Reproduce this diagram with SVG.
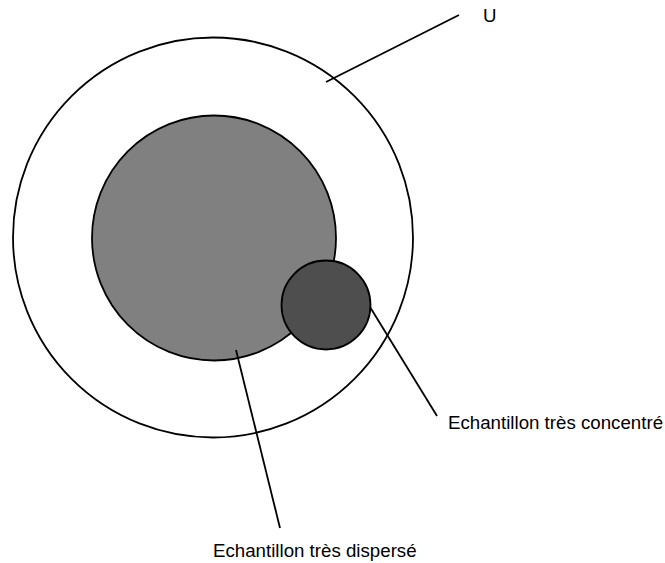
<svg xmlns="http://www.w3.org/2000/svg" width="665" height="563" viewBox="0 0 665 563">
<style>
.shape{stroke:#000;stroke-width:1.8}
.conn{stroke:#000;stroke-width:1.8;fill:none}
.lbl{font-family:"Liberation Sans",Arial,sans-serif;font-size:18.7px;fill:#000}
</style>
<rect width="665" height="563" fill="#fff"/>
<g id="univers">
<circle class="shape" cx="213" cy="237.5" r="200" fill="#fff"/>
</g>
<g id="disperse">
<ellipse class="shape" cx="214" cy="238" rx="122" ry="122.5" fill="#808080"/>
</g>
<g id="concentre">
<circle class="shape" cx="326" cy="305" r="44.5" fill="#4e4e4e"/>
</g>
<g id="connectors">
<line class="conn" x1="326" y1="82" x2="459" y2="15"/>
<line class="conn" x1="370" y1="307" x2="437" y2="416"/>
<line class="conn" x1="236" y1="350" x2="280" y2="528"/>
</g>
<g id="labels">
<text class="lbl" x="483" y="22">U</text>
<text class="lbl" x="448" y="429">Echantillon très concentré</text>
<text class="lbl" x="213" y="557">Echantillon très dispersé</text>
</g>
</svg>
